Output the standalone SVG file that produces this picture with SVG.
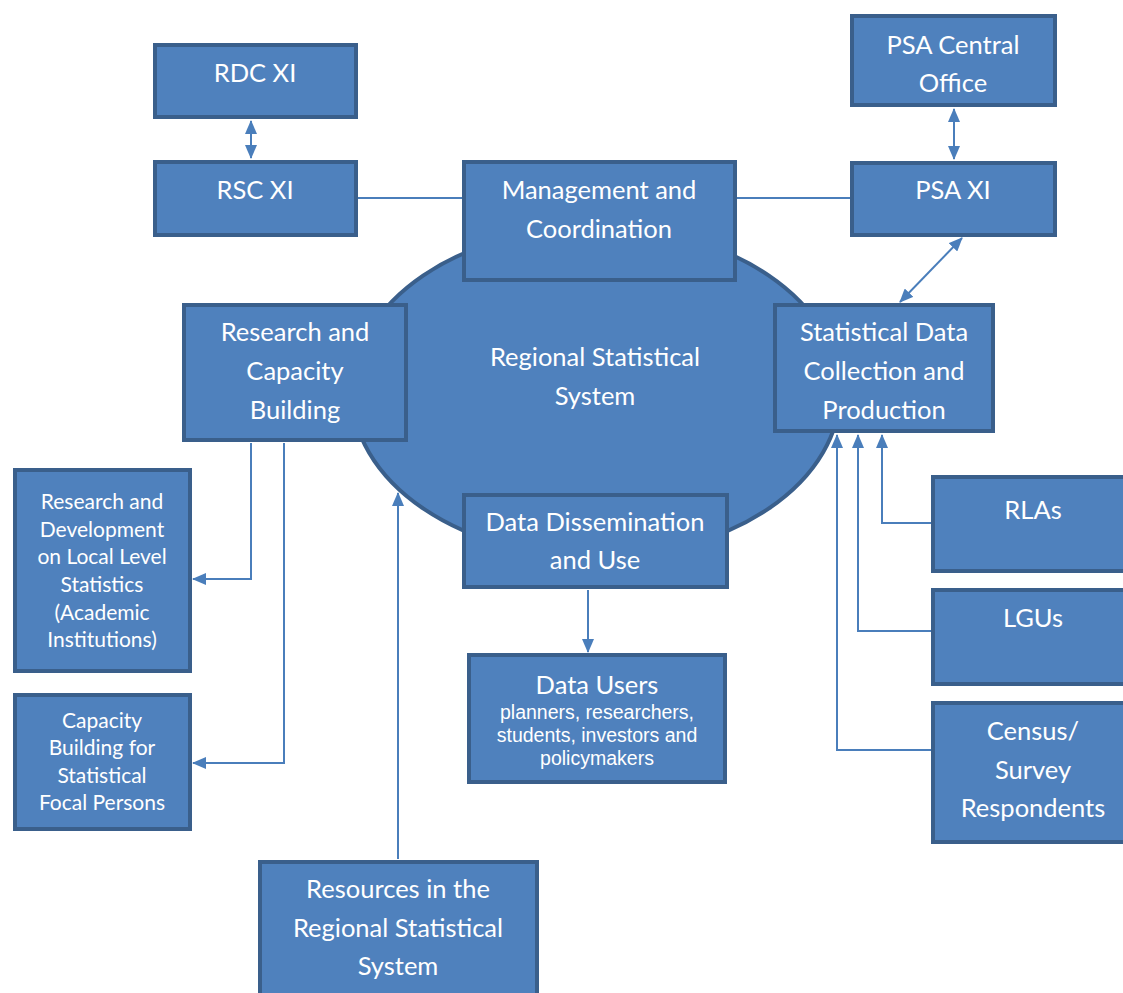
<svg xmlns="http://www.w3.org/2000/svg" width="1123" height="993" viewBox="0 0 1123 993">
<defs>
<style>
.box{fill:#4F81BD;stroke:#3A5F8B;stroke-width:4}
.t{fill:#fff;font-family:Lato,"Open Sans",sans-serif;font-size:25.5px;text-anchor:middle}
.s{fill:#fff;font-family:Lato,"Open Sans",sans-serif;font-size:21px;text-anchor:middle}
.a{fill:#fff;font-family:"Liberation Sans",Arial,sans-serif;font-size:19.5px;text-anchor:middle}
.c{fill:none;stroke:#4A7EBB;stroke-width:2}
</style>
<marker id="ah" markerWidth="14" markerHeight="12" refX="13" refY="6" orient="auto-start-reverse" markerUnits="userSpaceOnUse">
<path d="M0,0 L14,6 L0,12 Z" fill="#4A7EBB"/>
</marker>
</defs>
<rect width="1123" height="993" fill="#fff"/>
<g id="ellipse">
<ellipse cx="596" cy="392" rx="244" ry="165" class="box"/>
<text class="t" x="595" y="366">Regional Statistical</text>
<text class="t" x="595" y="405">System</text>
</g>
<g id="connectors">
<line class="c" x1="251" y1="121" x2="251" y2="158" marker-start="url(#ah)" marker-end="url(#ah)"/>
<line class="c" x1="954" y1="109" x2="954" y2="159" marker-start="url(#ah)" marker-end="url(#ah)"/>
<line class="c" x1="358" y1="198" x2="462" y2="198"/>
<line class="c" x1="737" y1="198" x2="850" y2="198"/>
<line class="c" x1="962" y1="238" x2="900" y2="302" marker-start="url(#ah)" marker-end="url(#ah)"/>
<polyline class="c" points="251,443 251,579 193,579" marker-end="url(#ah)"/>
<polyline class="c" points="284,443 284,763 193,763" marker-end="url(#ah)"/>
<line class="c" x1="588" y1="590" x2="588" y2="652" marker-end="url(#ah)"/>
<line class="c" x1="398" y1="859" x2="398" y2="493" marker-end="url(#ah)"/>
<polyline class="c" points="931,523 882,523 882,435" marker-end="url(#ah)"/>
<polyline class="c" points="931,631 858,631 858,435" marker-end="url(#ah)"/>
<polyline class="c" points="931,750 837,750 837,435" marker-end="url(#ah)"/>
</g>
<g id="rdc">
<rect class="box" x="155" y="45" width="201" height="72"/>
<text class="t" x="255" y="82">RDC XI</text>
</g>
<g id="rsc">
<rect class="box" x="155" y="162" width="201" height="73"/>
<text class="t" x="255" y="199">RSC XI</text>
</g>
<g id="psaco">
<rect class="box" x="852" y="16" width="203" height="89"/>
<text class="t" x="953" y="54">PSA Central</text>
<text class="t" x="953" y="92">Office</text>
</g>
<g id="psaxi">
<rect class="box" x="852" y="163" width="203" height="72"/>
<text class="t" x="953" y="199">PSA XI</text>
</g>
<g id="mgmt">
<rect class="box" x="464" y="162" width="271" height="118"/>
<text class="t" x="599" y="199">Management and</text>
<text class="t" x="599" y="238">Coordination</text>
</g>
<g id="research">
<rect class="box" x="184" y="305" width="222" height="135"/>
<text class="t" x="295" y="341">Research and</text>
<text class="t" x="295" y="380">Capacity</text>
<text class="t" x="295" y="419">Building</text>
</g>
<g id="statdata">
<rect class="box" x="775" y="305" width="218" height="126"/>
<text class="t" x="884" y="341">Statistical Data</text>
<text class="t" x="884" y="380">Collection and</text>
<text class="t" x="884" y="419">Production</text>
</g>
<g id="dissem">
<rect class="box" x="464" y="495" width="263" height="92"/>
<text class="t" x="595" y="531">Data Dissemination</text>
<text class="t" x="595" y="569">and Use</text>
</g>
<g id="users">
<rect class="box" x="469" y="655" width="256" height="127"/>
<text class="t" x="597" y="694">Data Users</text>
<text class="a" x="597" y="719">planners, researchers,</text>
<text class="a" x="597" y="742">students, investors and</text>
<text class="a" x="597" y="765">policymakers</text>
</g>
<g id="rnd">
<rect class="box" x="15" y="470" width="175" height="201"/>
<text class="s" x="102" y="509">Research and</text>
<text class="s" x="102" y="537">Development</text>
<text class="s" x="102" y="564">on Local Level</text>
<text class="s" x="102" y="592">Statistics</text>
<text class="s" x="102" y="620">(Academic</text>
<text class="s" x="102" y="647">Institutions)</text>
</g>
<g id="capacity">
<rect class="box" x="15" y="695" width="175" height="134"/>
<text class="s" x="102" y="728">Capacity</text>
<text class="s" x="102" y="755">Building for</text>
<text class="s" x="102" y="783">Statistical</text>
<text class="s" x="102" y="810">Focal Persons</text>
</g>
<g id="rlas">
<rect class="box" x="933" y="477" width="200" height="94"/>
<text class="t" x="1033" y="519">RLAs</text>
</g>
<g id="lgus">
<rect class="box" x="933" y="590" width="200" height="94"/>
<text class="t" x="1033" y="627">LGUs</text>
</g>
<g id="census">
<rect class="box" x="933" y="703" width="200" height="139"/>
<text class="t" x="1033" y="740">Census/</text>
<text class="t" x="1033" y="779">Survey</text>
<text class="t" x="1033" y="817">Respondents</text>
</g>
<g id="resources">
<rect class="box" x="260" y="862" width="277" height="140"/>
<text class="t" x="398" y="898">Resources in the</text>
<text class="t" x="398" y="937">Regional Statistical</text>
<text class="t" x="398" y="975">System</text>
</g>
</svg>
